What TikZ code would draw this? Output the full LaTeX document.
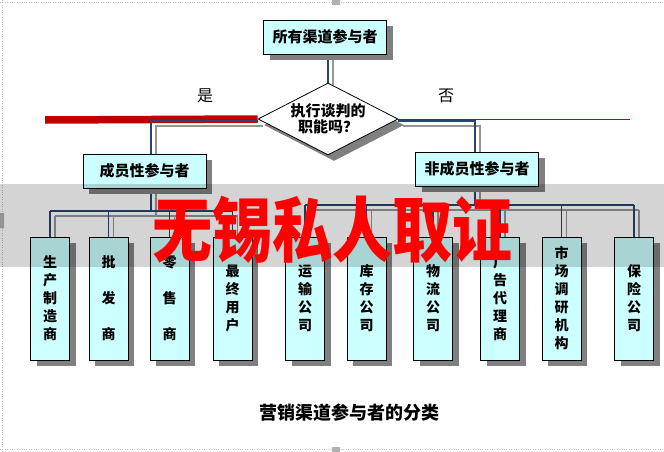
\documentclass[tikz,border=0pt]{standalone}
\usepackage{fontspec}
\newfontfamily\cjk{Noto Sans CJK SC}
\usetikzlibrary{shapes.geometric,shadows,backgrounds}
\definecolor{boxcyan}{HTML}{CCFFFF}
\definecolor{wireblue}{HTML}{27456E}
\definecolor{wiregray}{HTML}{969696}
\definecolor{redline}{HTML}{C00000}
\tikzset{
  boxshade/.style={drop shadow={shadow xshift=6pt,shadow yshift=-6pt,fill=black!50,opacity=1}},
  headbox/.style={draw,fill=boxcyan,line width=.8pt,minimum width=123pt,minimum height=34pt,inner sep=0pt,boxshade,
    font=\cjk\bfseries\fontsize{15}{18}\selectfont},
  leaf/.style={draw,fill=boxcyan,line width=.8pt,minimum width=39pt,minimum height=123pt,inner sep=0pt,align=center,boxshade,
    font=\cjk\bfseries\fontsize{14}{18}\selectfont},
  wire/.style={draw=wireblue,line width=1.6pt},
  shadewire/.style={draw=wiregray,line width=1.6pt,transform canvas={shift={(5pt,-5pt)}}},
  wmtext/.style={font=\cjk\bfseries\fontsize{60}{60}\selectfont,inner sep=0pt}
}
\begin{document}
\begin{tikzpicture}[x=1pt,y=-1pt,line join=miter]
\useasboundingbox (0,0) rectangle (664,452);
% frame of the slide
\draw[gray!50,dotted] (2,0)--(2,452) (0,2)--(664,2) (0,449)--(664,449);
\fill[gray!60] (332,0) rectangle (340,5) (332,447) rectangle (340,452) (0,213) rectangle (4,228);
% boxes
\node[headbox] (top) at (325,37) {所有渠道参与者};
\node[diamond,draw,fill=white,line width=.8pt,aspect=1.9,minimum width=140pt,minimum height=72pt,inner sep=-3pt,boxshade,
  align=center,font=\cjk\bfseries\fontsize{15}{16}\selectfont] (q) at (328,119) {执行谈判的\\职能吗？};
\node[headbox] (m) at (144.5,171) {成员性参与者};
\node[headbox] (n) at (477,169) {非成员性参与者};
\node[font=\cjk\fontsize{16}{18}\selectfont] (yes) at (205,96) {是};
\node[font=\cjk\fontsize{16}{18}\selectfont] (no) at (446,96) {否};
\foreach \p/\x/\w in {c1/50/{生\\产\\制\\造\\商},c2/108.5/{批\\[18pt]发\\[18pt]商},c3/169.5/{零\\[18pt]售\\[18pt]商},
  c4/232.5/{最\\终\\用\\户},c5/305/{运\\输\\公\\司},c6/366.5/{库\\存\\公\\司},c7/433/{物\\流\\公\\司},
  c8/500/{广\\告\\代\\理\\商},c9/561.5/{市\\场\\调\\研\\机\\构},c10/634/{保\\险\\公\\司}}
  \node[leaf] (\p) at (\x,298.5) {\w};
\node[font=\cjk\bfseries\fontsize{18}{20}\selectfont] (cap) at (349,413) {营销渠道参与者的分类};
% connectors
\path (45,120) coordinate (L) (630,118) coordinate (R) (151,211) coordinate (bl) (475,205) coordinate (br);
\begin{pgfonlayer}{background}
\draw[redline,line width=7.5pt] (L)--(q.west);
\draw[redline,line width=.8pt] (q.east)--(q.east -| R);
\foreach \s in {shadewire,wire}{
  \draw[\s] (q.north |- top.south)--(q.north);
  \draw[\s] ([yshift=-2pt]q.west) -| (bl |- m.north);
  \draw[\s] ([yshift=-2pt]q.east) -| (br |- n.north);
  \draw[\s] (bl |- m.south)--(bl) (br |- n.south)--(br);
  \draw[\s] (bl -| c1.north)--(bl -| c4.north) (br -| c5.north)--(br -| c10.north);
  \foreach \c in {c1,c2,c3,c4} \draw[\s] (bl -| \c.north)--(\c.north);
  \foreach \c in {c5,c6,c7,c8,c9,c10} \draw[\s] (br -| \c.north)--(\c.north);
}
\end{pgfonlayer}
% watermark band
\fill[black,opacity=.17] (0,184) rectangle (664,267);
\node[wmtext,text=red] (wm) at (332,230) {\scalebox{1}[1.18]{无锡私人取证}};
\end{tikzpicture}
\end{document}
